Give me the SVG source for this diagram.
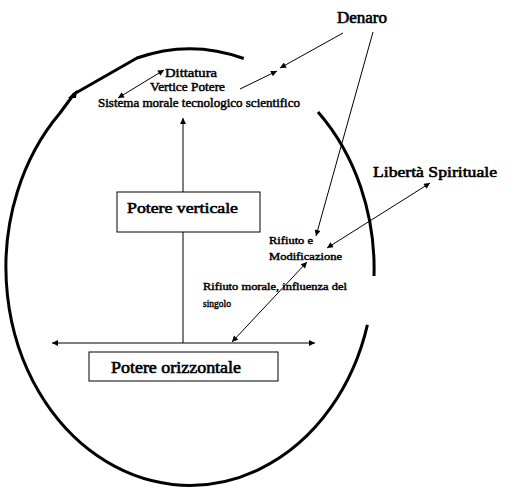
<svg xmlns="http://www.w3.org/2000/svg" width="527" height="490" viewBox="0 0 527 490">
<style>
.t{font-family:'Liberation Serif',serif;font-weight:400;fill:#000;stroke:#000;stroke-width:0.6}
.s{stroke-width:0.45}
.box{fill:#fff;stroke:#000;stroke-width:1}
.ln{stroke:#000;stroke-width:1;fill:none}
.el{stroke:#000;stroke-width:3;fill:none;stroke-linejoin:round}
</style>
<defs>
<marker id="ah" viewBox="0 0 10 10" refX="10" refY="5" markerWidth="8" markerHeight="6" markerUnits="userSpaceOnUse" orient="auto-start-reverse">
<path d="M0,0 L10,5 L0,10 Z" fill="#000"/>
</marker>
</defs>
<rect width="527" height="490" fill="#fff"/>
<g id="ellipse">
<path class="el" d="M318,112 A184,218 0 0 1 374,276"/>
<path class="el" d="M367.4,324.9 A184,218 0 1 1 60,113 L74,94 L137,58 A184,218 0 0 1 243.8,58.5"/>
<path d="M68,98 L77,90 L76,98 Z" fill="#000"/>
</g>
<g id="connectors">
<line class="ln" x1="183" y1="343" x2="183" y2="118" marker-end="url(#ah)"/>
<line class="ln" x1="52" y1="343" x2="315" y2="343" marker-start="url(#ah)" marker-end="url(#ah)"/>
<line class="ln" x1="118" y1="98" x2="164" y2="70" marker-start="url(#ah)" marker-end="url(#ah)"/>
<line class="ln" x1="240" y1="89" x2="277" y2="71" marker-end="url(#ah)"/>
<line class="ln" x1="343" y1="33" x2="280" y2="68" marker-end="url(#ah)"/>
<line class="ln" x1="373" y1="32" x2="316" y2="236" marker-end="url(#ah)"/>
<line class="ln" x1="430" y1="183" x2="327" y2="248" marker-start="url(#ah)" marker-end="url(#ah)"/>
<line class="ln" x1="232" y1="342" x2="307" y2="262" marker-start="url(#ah)" marker-end="url(#ah)"/>
</g>
<g id="potere-verticale">
<rect class="box" x="117" y="192" width="143" height="40"/>
<text class="t" x="127" y="213" font-size="15" textLength="111" lengthAdjust="spacingAndGlyphs">Potere verticale</text>
</g>
<g id="potere-orizzontale">
<rect class="box" x="89" y="352" width="189" height="29"/>
<text class="t" x="111" y="373" font-size="16" textLength="130" lengthAdjust="spacingAndGlyphs">Potere orizzontale</text>
</g>
<g id="vertice">
<text class="t s" x="165" y="77" font-size="12" textLength="52" lengthAdjust="spacingAndGlyphs">Dittatura</text>
<text class="t s" x="150" y="91" font-size="12" textLength="75" lengthAdjust="spacingAndGlyphs">Vertice Potere</text>
<text class="t s" x="98" y="107" font-size="12" textLength="202" lengthAdjust="spacingAndGlyphs">Sistema morale tecnologico scientifico</text>
</g>
<g id="denaro">
<text class="t" x="337" y="23" font-size="16" textLength="50" lengthAdjust="spacingAndGlyphs">Denaro</text>
</g>
<g id="liberta">
<text class="t" x="373" y="177" font-size="15" textLength="124" lengthAdjust="spacingAndGlyphs">Libertà Spirituale</text>
</g>
<g id="rifiuto-modificazione">
<text class="t s" x="269" y="244" font-size="11" textLength="44" lengthAdjust="spacingAndGlyphs">Rifiuto e</text>
<text class="t s" x="269" y="260" font-size="11" textLength="73" lengthAdjust="spacingAndGlyphs">Modificazione</text>
</g>
<g id="rifiuto-morale">
<text class="t s" x="203" y="290" font-size="11" textLength="144" lengthAdjust="spacingAndGlyphs">Rifiuto morale, influenza del</text>
<text class="t s" x="203" y="307" font-size="11" textLength="28" lengthAdjust="spacingAndGlyphs">singolo</text>
</g>
</svg>
